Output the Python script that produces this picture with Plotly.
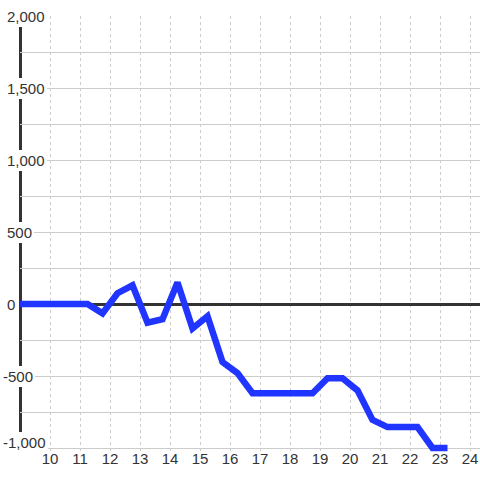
import plotly.graph_objects as go

# ---- data ----
x_vals = [9, 9.25, 9.75, 10.25, 10.75, 11.25, 11.75, 12.25, 12.75, 13.25, 13.75,
          14.25, 14.75, 15.25, 15.75, 16.25, 16.75, 17.25, 17.75, 18.25, 18.75,
          19.25, 19.75, 20.25, 20.75, 21.25, 21.75, 22.25, 22.75, 23.25]
y_vals = [0, 0, 0, 0, 0, 0, -65, 75, 130, -130, -105,
          150, -170, -85, -403, -480, -620, -620, -620, -620, -620,
          -515, -515, -600, -805, -855, -855, -855, -1000, -1000]

x_ticks = list(range(10, 25))
x_tick_labels = [str(v) for v in x_ticks]
y_grid = list(range(-1000, 2001, 250))
y_label_vals = [2000, 1500, 1000, 500, 0, -500, -1000]
y_label_text = ["2,000", "1,500", "1,000", "500", "0", "-500", "-1,000"]

# ---- layout constants ----
W, H = 480, 480
L, R, T = 20, 0, 16
EXTRA = 6                       # extra px below -1,000 so the thick line is not clipped
B = 32 - EXTRA
plot_w = W - L - R
plot_h = H - T - B
px_per_unit = (448 - 16) / 3000.0
y_top = 2000
y_bottom = y_top - plot_h / px_per_unit
FONT = "Liberation Sans, Arial, sans-serif"
TXT = "#333333"
FS = 15

fig = go.Figure()
fig.add_trace(go.Scatter(
    x=x_vals, y=y_vals, mode="lines",
    line=dict(color="#2035ff", width=6.5),
    cliponaxis=False, hoverinfo="skip", showlegend=False,
))

# cover grid below the -1,000 line
fig.add_shape(type="rect", xref="paper", yref="y",
              x0=0, x1=1, y0=y_bottom, y1=-1000 - 0.6 / px_per_unit,
              line=dict(width=0), fillcolor="white", layer="between")

# vertical y-axis line
fig.add_shape(type="line", xref="paper", yref="y",
              x0=0.5 / plot_w, x1=0.5 / plot_w, y0=-1000, y1=2000,
              line=dict(color="#333333", width=3), layer="between")

for v, t in zip(y_label_vals, y_label_text):
    left_px = 1 if v < 0 else 5
    fig.add_annotation(
        x=(left_px - L) / plot_w, xref="paper", xanchor="left",
        y=v, yref="y", yanchor="middle",
        yshift=6 if v == -1000 else 0,
        text=t, showarrow=False,
        font=dict(family=FONT, size=FS, color=TXT),
        bgcolor="white", borderpad=2, borderwidth=0,
    )

fig.update_layout(
    width=W, height=H,
    margin=dict(l=L, r=R, t=T, b=B, pad=0),
    paper_bgcolor="white", plot_bgcolor="white",
    showlegend=False,
    xaxis=dict(
        range=[9, 9 + plot_w / 30.0],
        tickvals=x_ticks, ticktext=x_tick_labels,
        showgrid=True, gridcolor="#cccccc", gridwidth=1, griddash="dot",
        zeroline=False, showline=False, ticks="",
        tickfont=dict(family=FONT, size=FS, color=TXT),
        ticklabelstandoff=-EXTRA,
        automargin=False,
        fixedrange=True,
    ),
    yaxis=dict(
        range=[y_bottom, y_top],
        tickvals=y_grid, showticklabels=False,
        showgrid=True, gridcolor="#cccccc", gridwidth=1,
        zeroline=True, zerolinecolor="#333333", zerolinewidth=3,
        showline=False, ticks="",
        automargin=False,
        fixedrange=True,
    ),
)

fig.write_html(
    "out.html",
    config={"displayModeBar": False, "responsive": False},
    post_script="document.body.style.margin='0';document.body.style.padding='0';",
)
